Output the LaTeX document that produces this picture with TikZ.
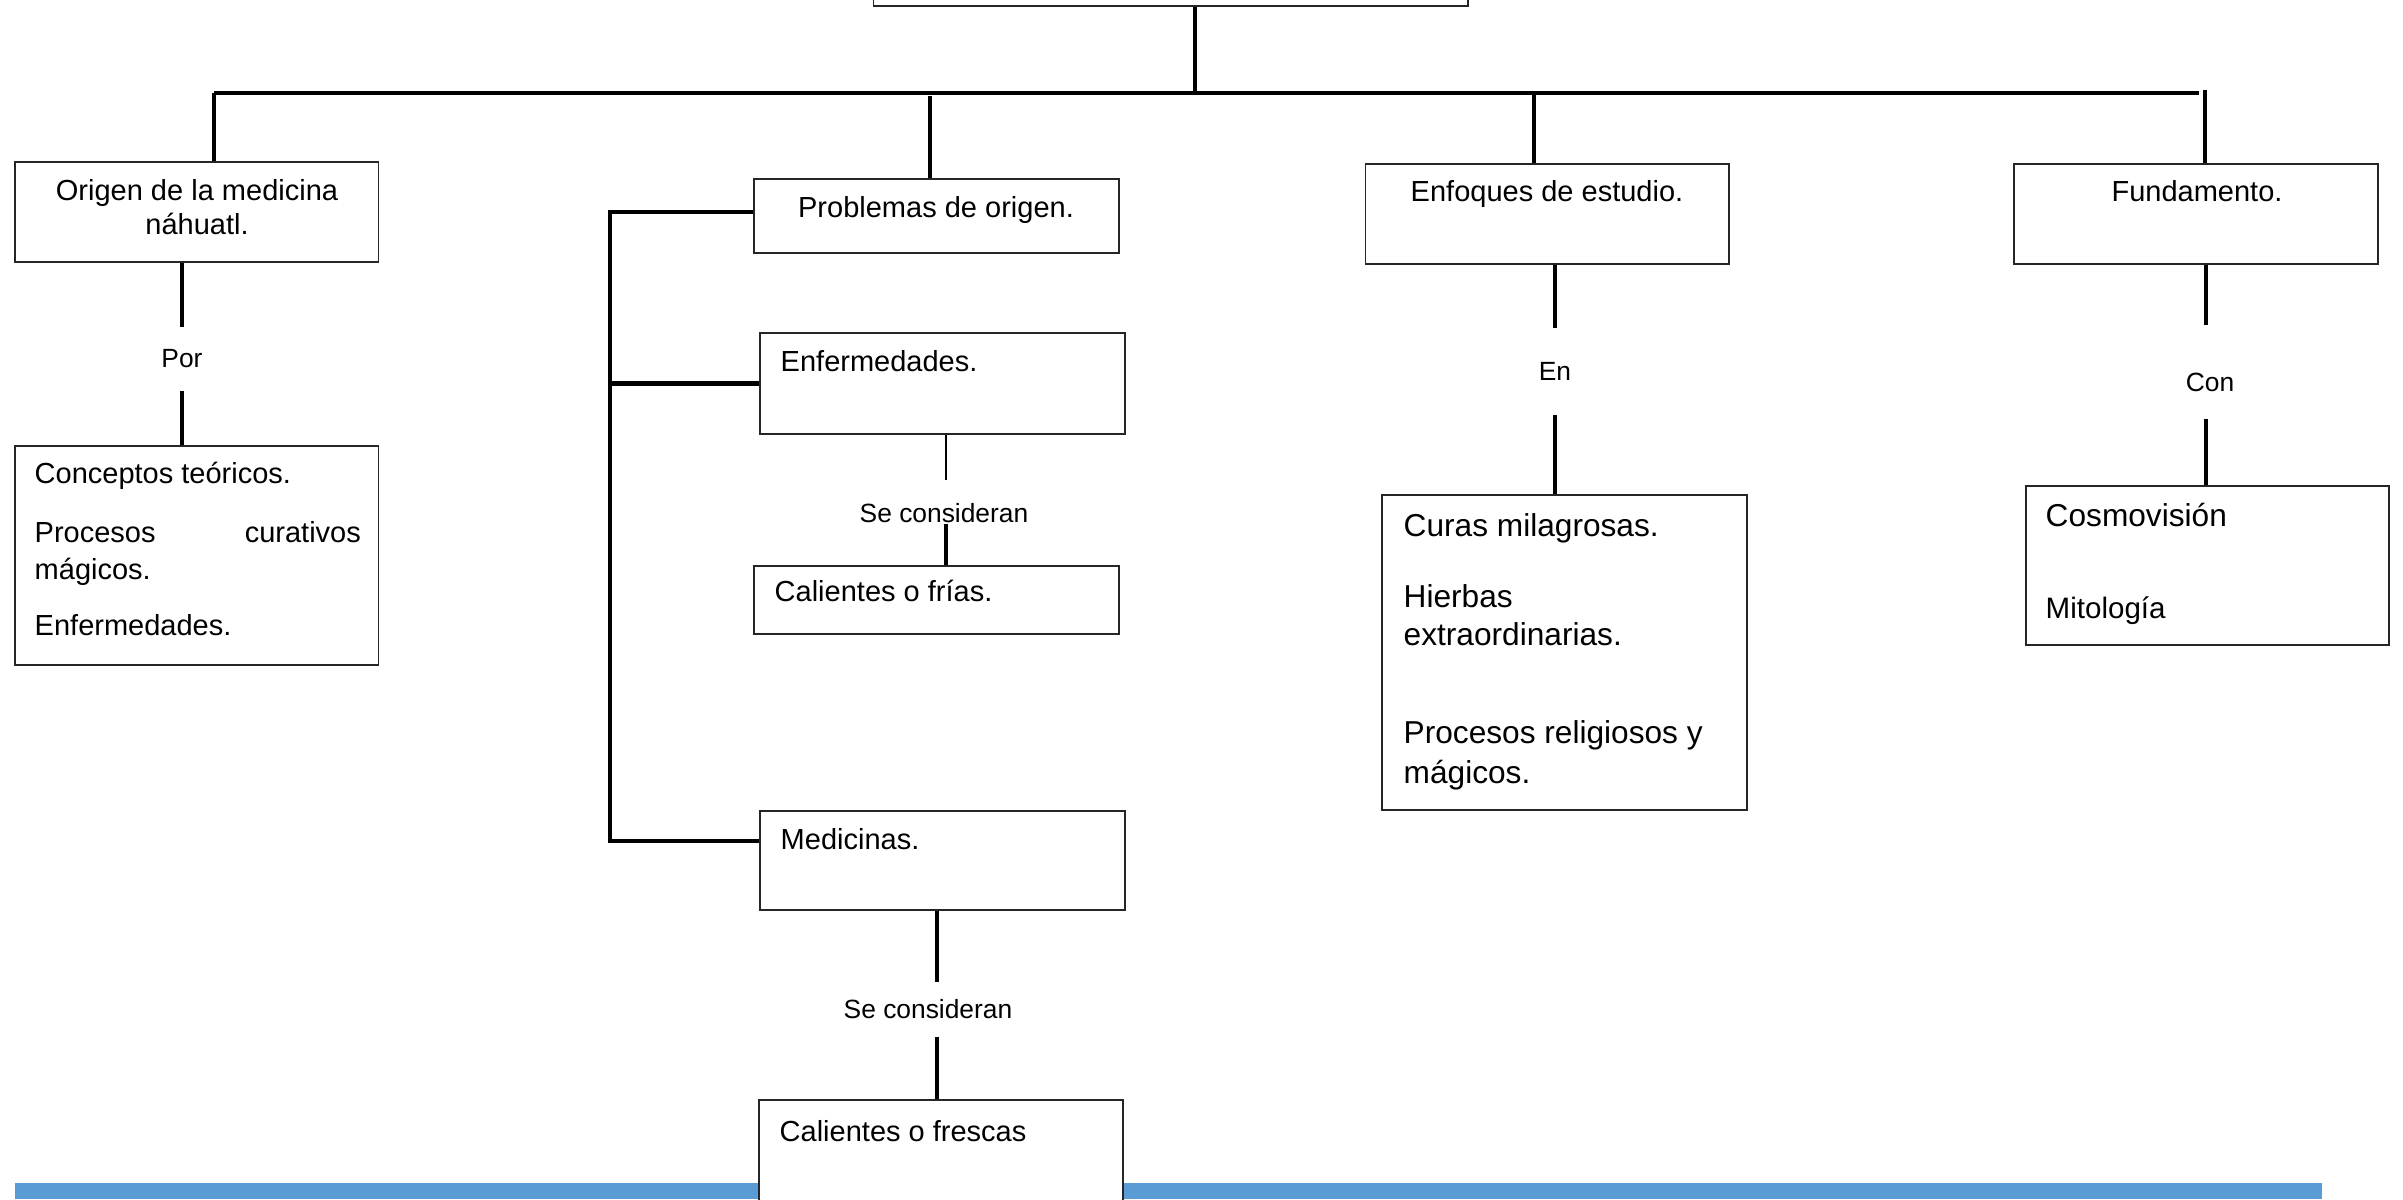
\documentclass[tikz,border=0pt]{standalone}
\usepackage{fontspec}
\setmainfont{Liberation Sans}
\definecolor{barblue}{HTML}{5B9BD5}
\begin{document}
\begin{tikzpicture}[x=0.01cm,y=-0.01cm,
  box/.style={draw=black!85,line width=0.45pt,fill=white,rectangle,inner sep=0pt},
  conn/.style={line width=1pt,black},
  bus/.style={line width=1.3pt,black},
  thinconn/.style={line width=0.6pt,black},
  txt/.style={inner sep=0pt,font=\fontsize{8.25}{9.6}\selectfont},
  bigtxt/.style={inner sep=0pt,font=\fontsize{9}{11}\selectfont},
  lbl/.style={inner xsep=0pt,inner ysep=0pt,font=\fontsize{7.5}{9}\selectfont,anchor=base}]
\useasboundingbox (0,0) rectangle (2403,1199);

% bottom blue bar
\fill[barblue] (15,1183) rectangle (2322,1199);

% boxes
\node[box,minimum width=5.945cm,minimum height=1.1cm] (top) at (1170.75,-49) {};
\node[box,minimum width=3.635cm,minimum height=1cm] (b1) at (196.75,212) {};
\node[box,minimum width=3.635cm,minimum height=2.19cm] (b2) at (196.75,555.5) {};
\node[box,minimum width=3.65cm,minimum height=0.74cm] (prob) at (936.5,216) {};
\node[box,minimum width=3.65cm,minimum height=1.01cm] (enf) at (942.5,383.5) {};
\node[box,minimum width=3.65cm,minimum height=0.68cm] (cf) at (936.5,600) {};
\node[box,minimum width=3.65cm,minimum height=0.99cm] (med) at (942.5,860.5) {};
\node[box,minimum width=3.64cm,minimum height=1.6cm] (cfr) at (941,1180) {};
\node[box,minimum width=3.635cm,minimum height=1cm] (enfq) at (1547.25,214) {};
\node[box,minimum width=3.65cm,minimum height=3.15cm] (curas) at (1564.5,652.5) {};
\node[box,minimum width=3.64cm,minimum height=1cm] (fund) at (2196,214) {};
\node[box,minimum width=3.63cm,minimum height=1.59cm] (cosmo) at (2207.5,565.5) {};

% texts
\node[txt,align=center] (t1) at (197,207) {Origen de la medicina\\náhuatl.};
\node[txt,anchor=base west] (t2a) at (34,483) {Conceptos teóricos.};
\node[txt,anchor=base west] (t2b) at (34,542) {\makebox[3.26cm][l]{Procesos\hfill curativos}};
\node[txt,anchor=base west] (t2c) at (34,579) {mágicos.};
\node[txt,anchor=base west] (t2d) at (34,635) {Enfermedades.};
\node[txt,anchor=base] (tprob) at (936,217) {Problemas de origen.};
\node[txt,anchor=base west] (tenf) at (780,371) {Enfermedades.};
\node[txt,anchor=base west] (tcf) at (774,601) {Calientes o frías.};
\node[txt,anchor=base west] (tmed) at (780,849) {Medicinas.};
\node[txt,anchor=base west] (tcfr) at (779,1141) {Calientes o frescas};
\node[txt,anchor=base] (tenfq) at (1547,201) {Enfoques de estudio.};
\node[txt,anchor=base] (tfund) at (2197,201) {Fundamento.};
\node[bigtxt,anchor=base west] (tc1) at (1403,536) {Curas milagrosas.};
\node[bigtxt,anchor=base west] (tc2) at (1403,607) {Hierbas};
\node[bigtxt,anchor=base west] (tc3) at (1403,645) {extraordinarias.};
\node[bigtxt,anchor=base west] (tc4) at (1403,743) {Procesos religiosos y};
\node[bigtxt,anchor=base west] (tc5) at (1403,783) {mágicos.};
\node[bigtxt,anchor=base west] (tco1) at (2045,526) {Cosmovisión};
\node[txt,anchor=base west,font=\fontsize{8.4}{10}\selectfont] (tco2) at (2045,618) {Mitología};

% connector labels
\node[lbl,text height=0.39cm,text depth=0.23cm] (por) at (182,367) {Por};
\node[lbl,text height=0.41cm,text depth=0.01cm] (sc1) at (944,522) {Se consideran};
\node[lbl,text height=0.35cm,text depth=0.18cm] (sc2) at (928,1018) {Se consideran};
\node[lbl,text height=0.51cm,text depth=0.34cm] (en) at (1555,380) {En};
\node[lbl,text height=0.65cm,text depth=0.27cm] (con) at (2210,391) {Con};

% line positions of labelled connectors
\coordinate (sc1x) at (946,500);
\coordinate (sc2x) at (937,1000);
\coordinate (conx) at (2206,400);

% bus and branches
\coordinate (busL) at (214,93);
\coordinate (busR) at (2199,93);
\coordinate (trunk) at (1195,93);
\coordinate (j2) at (930,96);
\coordinate (j3) at (1534,93);
\coordinate (j4) at (2205,90);
\draw[bus] (busL) -- (busR);
\draw[conn] (trunk |- top.south) -- (trunk);
\draw[conn] (busL) -- (busL |- b1.north);
\draw[conn] (j2) -- (j2 |- prob.north);
\draw[conn] (j3) -- (j3 |- enfq.north);
\draw[conn] (j4) -- (j4 |- fund.north);

% labelled connectors
\draw[conn] (b1.south -| por) -- (por.north);
\draw[conn] (por.south) -- (b2.north -| por);
\draw[thinconn] (enf.south -| sc1x) -- (sc1.north -| sc1x);
\draw[conn] (sc1.south -| sc1x) -- (cf.north -| sc1x);
\draw[conn] (med.south -| sc2x) -- (sc2.north -| sc2x);
\draw[conn] (sc2.south -| sc2x) -- (cfr.north -| sc2x);
\draw[conn] (enfq.south -| en) -- (en.north);
\draw[conn] (en.south) -- (curas.north -| en);
\draw[conn] (fund.south -| conx) -- (con.north -| conx);
\draw[conn] (con.south -| conx) -- (cosmo.north -| conx);

% bracket
\coordinate (bk1) at (610,212);
\coordinate (bk2) at (610,841);
\draw[conn,line width=1.2pt] (prob.west |- bk1) -- (bk1) -- (bk2) -- (med.west |- bk2);
\draw[conn,line width=1.2pt] (bk1 |- enf.west) -- (enf.west);
\end{tikzpicture}
\end{document}
